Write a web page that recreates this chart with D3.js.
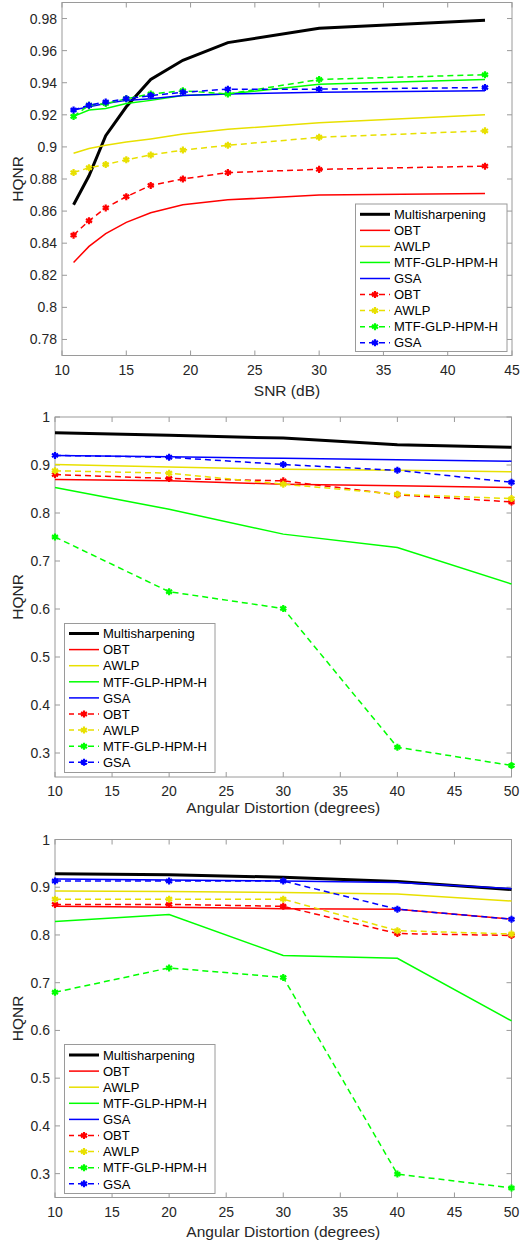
<!DOCTYPE html>
<html>
<head>
<meta charset="utf-8">
<script src="https://cdn.jsdelivr.net/npm/d3@7"></script>
<style>
  body { margin: 0; background: #fff; }
  text { font-family: "Liberation Sans", Arial, sans-serif; }
</style>
</head>
<body>
<svg id="chart"></svg>
<script>
// ---- data ----
var snr = [10.9, 12.1, 13.4, 15, 16.9, 19.4, 22.9, 30, 42.9];
var angles = [10, 20, 30, 40, 50];
var methods = ["OBT", "AWLP", "MTF-GLP-HPM-H", "GSA"];

// panel 1 : HQNR vs SNR
var snrMulti   = [0.864, 0.882, 0.907, 0.925, 0.942, 0.954, 0.965, 0.974, 0.979];
var snrOBT     = [0.828, 0.838, 0.846, 0.853, 0.859, 0.864, 0.867, 0.870, 0.871];
var snrAWLP    = [0.896, 0.899, 0.901, 0.903, 0.905, 0.908, 0.911, 0.915, 0.920];
var snrMTF     = [0.919, 0.923, 0.924, 0.927, 0.929, 0.932, 0.933, 0.939, 0.942];
var snrGSA     = [0.923, 0.925, 0.927, 0.929, 0.930, 0.932, 0.933, 0.934, 0.935];
var snrOBTd    = [0.845, 0.854, 0.862, 0.869, 0.876, 0.880, 0.884, 0.886, 0.888];
var snrAWLPd   = [0.884, 0.887, 0.889, 0.892, 0.895, 0.898, 0.901, 0.906, 0.910];
var snrMTFd    = [0.919, 0.926, 0.927, 0.930, 0.933, 0.935, 0.933, 0.942, 0.945];
var snrGSAd    = [0.923, 0.926, 0.928, 0.930, 0.932, 0.934, 0.936, 0.936, 0.937];

// panel 2 : HQNR vs angular distortion
var angMulti   = [0.967, 0.962, 0.956, 0.942, 0.937];
var angOBT     = [0.870, 0.867, 0.860, 0.857, 0.853];
var angAWLP    = [0.901, 0.896, 0.891, 0.889, 0.886];
var angMTF     = [0.853, 0.808, 0.756, 0.728, 0.652];
var angGSA     = [0.920, 0.917, 0.914, 0.911, 0.908];
var angOBTd    = [0.880, 0.872, 0.867, 0.838, 0.823];
var angAWLPd   = [0.888, 0.883, 0.860, 0.839, 0.830];
var angMTFd    = [0.750, 0.636, 0.601, 0.312, 0.274];
var angGSAd    = [0.920, 0.916, 0.901, 0.889, 0.864];

// panel 3 : HQNR vs angular distortion (second data set)
var ang2Multi  = [0.928, 0.926, 0.921, 0.912, 0.895];
var ang2OBT    = [0.860, 0.858, 0.855, 0.854, 0.833];
var ang2AWLP   = [0.892, 0.891, 0.889, 0.886, 0.871];
var ang2MTF    = [0.828, 0.843, 0.757, 0.751, 0.620];
var ang2GSA    = [0.917, 0.915, 0.913, 0.910, 0.897];
var ang2OBTd   = [0.864, 0.864, 0.860, 0.803, 0.799];
var ang2AWLPd  = [0.875, 0.875, 0.875, 0.809, 0.802];
var ang2MTFd   = [0.680, 0.731, 0.711, 0.299, 0.270];
var ang2GSAd   = [0.913, 0.913, 0.913, 0.854, 0.833];

var snrTicks = [10, 15, 20, 25, 30, 35, 40, 45];
var snrYTicks = [0.78, 0.8, 0.82, 0.84, 0.86, 0.88, 0.9, 0.92, 0.94, 0.96, 0.98];
var angTicks = [10, 15, 20, 25, 30, 35, 40, 45, 50];
var angYTicks = [0.3, 0.4, 0.5, 0.6, 0.7, 0.8, 0.9, 1];

var colors = ["#ff0000", "#e8e000", "#00ff00", "#0000ff"];
var axisGray = "#9a9a9a";
var textColor = "#262626";

var svg = d3.select("#chart").attr("width", 522).attr("height", 1245);

function buildSeries(multi, solids, dashes) {
  var s = [{ name: "Multisharpening", values: multi, color: "#000", width: 3, dashed: false }];
  solids.forEach((v, i) => s.push({ name: methods[i], values: v, color: colors[i], width: 1.5, dashed: false }));
  dashes.forEach((v, i) => s.push({ name: methods[i], values: v, color: colors[i], width: 1.5, dashed: true }));
  return s;
}

function drawPanel(p) {
  var g = svg.append("g");

  var x = d3.scaleLinear().domain(p.xDomain).range([p.left, p.right]);
  var y = d3.scaleLinear().domain(p.yDomain).range([p.bottom, p.top]);

  // axis box
  g.append("rect")
    .attr("x", p.left).attr("y", p.top)
    .attr("width", p.right - p.left).attr("height", p.bottom - p.top)
    .attr("fill", "none").attr("stroke", axisGray).attr("stroke-width", 1);

  // inner ticks on all four sides
  var tl = 5;
  p.xTicks.forEach(t => {
    g.append("line").attr("x1", x(t)).attr("x2", x(t)).attr("y1", p.bottom).attr("y2", p.bottom - tl)
      .attr("stroke", axisGray);
    g.append("line").attr("x1", x(t)).attr("x2", x(t)).attr("y1", p.top).attr("y2", p.top + tl)
      .attr("stroke", axisGray);
    g.append("text").attr("x", x(t)).attr("y", p.bottom + 19)
      .attr("text-anchor", "middle").attr("font-size", "14px").attr("fill", textColor)
      .text(t);
  });
  p.yTicks.forEach(t => {
    g.append("line").attr("x1", p.left).attr("x2", p.left + tl).attr("y1", y(t)).attr("y2", y(t))
      .attr("stroke", axisGray);
    g.append("line").attr("x1", p.right).attr("x2", p.right - tl).attr("y1", y(t)).attr("y2", y(t))
      .attr("stroke", axisGray);
    g.append("text").attr("x", p.left - 5).attr("y", y(t) + 5)
      .attr("text-anchor", "end").attr("font-size", "14px").attr("fill", textColor)
      .text(String(+t.toFixed(2)));
  });

  // axis labels
  g.append("text").attr("x", (p.left + p.right) / 2).attr("y", p.xLabelY)
    .attr("text-anchor", "middle").attr("font-size", "15.5px").attr("fill", textColor)
    .text(p.xLabel);
  g.append("text")
    .attr("transform", "translate(23," + (p.top + p.bottom) / 2 + ") rotate(-90)")
    .attr("text-anchor", "middle").attr("font-size", "15.5px").attr("fill", textColor)
    .text("HQNR");

  var line = d3.line().x(d => x(d[0])).y(d => y(d[1]));
  var marker = d3.symbol().type(d3.symbolAsterisk).size(34);

  p.series.forEach(s => {
    var pts = p.xs.map((v, i) => [v, s.values[i]]);
    g.append("path")
      .attr("d", line(pts))
      .attr("fill", "none")
      .attr("stroke", s.color)
      .attr("stroke-width", s.width)
      .attr("stroke-dasharray", s.dashed ? "6,4" : null);
    if (s.dashed) {
      g.selectAll(null).data(pts).enter()
        .append("path")
        .attr("d", marker)
        .attr("transform", d => "translate(" + x(d[0]) + "," + y(d[1]) + ")")
        .attr("fill", "none")
        .attr("stroke", s.color)
        .attr("stroke-width", 2.2);
    }
  });

  // legend
  var L = p.legend;
  g.append("rect")
    .attr("x", L.x).attr("y", L.y).attr("width", L.w).attr("height", L.h)
    .attr("fill", "#fff").attr("stroke", axisGray);
  p.series.forEach((s, i) => {
    var ry = L.row0 + i * L.step;
    var lx = L.x + 4.5;
    g.append("line")
      .attr("x1", lx).attr("x2", lx + 30).attr("y1", ry).attr("y2", ry)
      .attr("stroke", s.color).attr("stroke-width", s.width)
      .attr("stroke-dasharray", s.dashed ? "6,4" : null)
      .attr("stroke-dashoffset", s.dashed ? 1 : null);
    if (s.dashed) {
      g.append("path").attr("d", marker)
        .attr("transform", "translate(" + (lx + 15) + "," + ry + ")")
        .attr("fill", "none").attr("stroke", s.color).attr("stroke-width", 2.2);
    }
    g.append("text").attr("x", lx + 34).attr("y", ry + 4.7)
      .attr("font-size", "13px").attr("fill", "#000")
      .text(s.name);
  });
}

drawPanel({
  left: 62, right: 512, top: 2.5, bottom: 355.5,
  xDomain: [10, 45], yDomain: [0.77, 0.99],
  xTicks: snrTicks, yTicks: snrYTicks,
  xs: snr, xLabel: "SNR (dB)", xLabelY: 395.5,
  series: buildSeries(snrMulti, [snrOBT, snrAWLP, snrMTF, snrGSA], [snrOBTd, snrAWLPd, snrMTFd, snrGSAd]),
  legend: { x: 355.5, y: 204, w: 151.5, h: 147.5, row0: 214.3, step: 16.05 }
});

drawPanel({
  left: 55, right: 511.5, top: 417, bottom: 777,
  xDomain: [10, 50], yDomain: [0.25, 1],
  xTicks: angTicks, yTicks: angYTicks,
  xs: angles, xLabel: "Angular Distortion (degrees)", xLabelY: 813,
  series: buildSeries(angMulti, [angOBT, angAWLP, angMTF, angGSA], [angOBTd, angAWLPd, angMTFd, angGSAd]),
  legend: { x: 64.5, y: 623.5, w: 150.5, h: 149, row0: 633.5, step: 16.1 }
});

drawPanel({
  left: 55, right: 511.5, top: 839.5, bottom: 1197.5,
  xDomain: [10, 50], yDomain: [0.25, 1],
  xTicks: angTicks, yTicks: angYTicks,
  xs: angles, xLabel: "Angular Distortion (degrees)", xLabelY: 1236.5,
  series: buildSeries(ang2Multi, [ang2OBT, ang2AWLP, ang2MTF, ang2GSA], [ang2OBTd, ang2AWLPd, ang2MTFd, ang2GSAd]),
  legend: { x: 64.5, y: 1044.5, w: 150.5, h: 149, row0: 1055, step: 16.1 }
});
</script>
</body>
</html>
